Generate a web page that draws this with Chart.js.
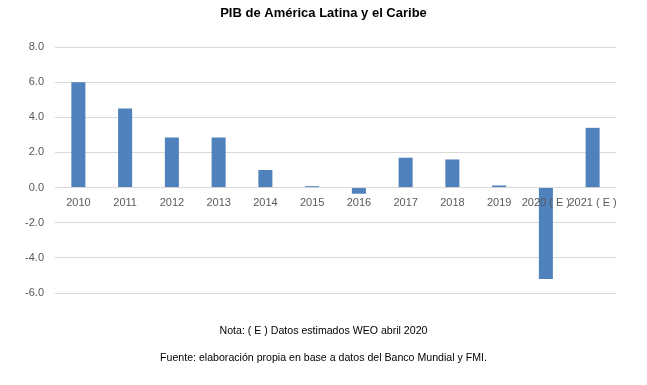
<!DOCTYPE html>
<html>
<head>
<meta charset="utf-8">
<script src="https://cdn.jsdelivr.net/npm/chart.js@4"></script>
<style>
html,body{margin:0;padding:0;background:#fff;}
#wrap{width:647px;height:385px;position:relative;}
</style>
</head>
<body>
<div id="wrap"><canvas id="c" width="647" height="385"></canvas></div>
<script>
const categories = ["2010","2011","2012","2013","2014","2015","2016","2017","2018","2019","2020 ( E )","2021 ( E )"];
const pib = [6.0, 4.5, 2.85, 2.85, 1.0, 0.08, -0.35, 1.7, 1.6, 0.12, -5.2, 3.4];
const yTicks = [-6, -4, -2, 0, 2, 4, 6, 8];
const titleText = "PIB de América Latina y el Caribe";
const notes = ["Nota: ( E ) Datos estimados WEO abril 2020", "Fuente: elaboración propia en base a datos del Banco Mundial y FMI."];

const FONT = "'Liberation Sans', Arial, sans-serif";
new Chart(document.getElementById('c'), {
  type: 'bar',
  data: {
    labels: categories,
    datasets: [{
      data: pib,
      backgroundColor: '#4F81BD',
      borderWidth: 0,
      barPercentage: 0.3,
      categoryPercentage: 1.0
    }]
  },
  options: {
    responsive: false,
    animation: false,
    devicePixelRatio: 1,
    layout: { padding: { top: 0, left: 0, right: 0, bottom: 13.5 } },
    plugins: {
      legend: { display: false },
      tooltip: { enabled: false },
      title: {
        display: true,
        text: titleText,
        color: '#000',
        font: { family: FONT, size: 13, weight: 'bold', lineHeight: 1.2 },
        padding: { top: 6, bottom: 25.4 }
      },
      subtitle: {
        display: true,
        position: 'bottom',
        text: notes,
        color: '#000',
        font: { family: FONT, size: 10.6, weight: 'normal', lineHeight: 27/10.6 },
        padding: { top: 24.5, bottom: 0 }
      }
    },
    scales: {
      x: {
        position: { y: 0 },
        grid: { display: false, drawTicks: false },
        border: { display: false },
        ticks: {
          z: 1,
          color: '#595959',
          font: { family: FONT, size: 11 },
          padding: 9,
          autoSkip: false,
          maxRotation: 0,
          minRotation: 0
        },
        afterFit: (s) => { s.height = 0; }
      },
      y: {
        min: -6,
        max: 8,
        afterBuildTicks: (s) => { s.ticks = yTicks.map(v => ({ value: v })); },
        grid: { color: '#d9d9d9', lineWidth: 1, drawTicks: false },
        border: { display: false },
        ticks: {
          color: '#595959',
          font: { family: FONT, size: 11 },
          padding: 11,
          callback: (v) => Number(v).toFixed(1)
        },
        afterFit: (s) => { s.width = 55; }
      },
      yRight: {
        type: 'linear',
        position: 'right',
        min: -6,
        max: 8,
        grid: { display: false, drawTicks: false },
        border: { display: false },
        ticks: { display: false },
        afterFit: (s) => { s.width = 31; }
      }
    }
  }
});
</script>
</body>
</html>
